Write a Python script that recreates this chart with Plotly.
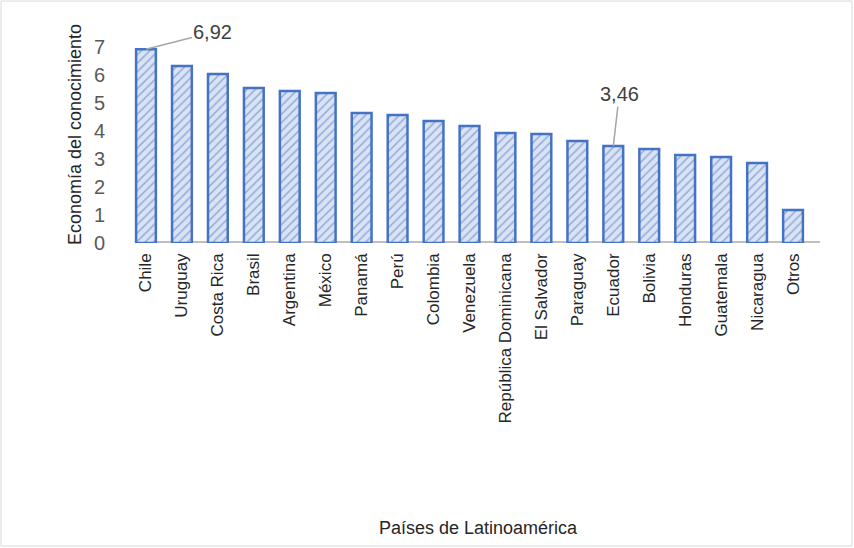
import plotly.graph_objects as go

paises = ["Chile", "Uruguay", "Costa Rica", "Brasil", "Argentina", "México", "Panamá",
          "Perú", "Colombia", "Venezuela", "República Dominicana", "El Salvador",
          "Paraguay", "Ecuador", "Bolivia", "Honduras", "Guatemala", "Nicaragua", "Otros"]
valores = [6.92, 6.32, 6.04, 5.54, 5.43, 5.36, 4.64, 4.57, 4.36, 4.18, 3.93, 3.89,
           3.64, 3.46, 3.36, 3.14, 3.07, 2.86, 1.18]
y_ticks = [0, 1, 2, 3, 4, 5, 6, 7]

L, R, T, B = 128, 43, 47, 305
W, H = 854, 548
pw = W - L - R
ph = H - T - B

def px_x(p):
    return (p - L) / pw

def px_y(p):
    return (H - B - p) / ph

font = "Liberation Sans, Arial, sans-serif"

fig = go.Figure()
fig.add_trace(go.Bar(
    x=paises, y=valores, width=0.55,
    marker=dict(
        color="#DAE3F3",
        line=dict(color="#4472C4", width=2.5),
        pattern=dict(shape="/", fgcolor="#4472C4", bgcolor="#DAE3F3", size=6, solidity=0.25),
    ),
    hoverinfo="x+y",
))

fig.update_layout(
    width=W, height=H,
    margin=dict(l=L, r=R, t=T, b=B),
    paper_bgcolor="white", plot_bgcolor="white",
    showlegend=False,
    bargap=0.45,
    font=dict(family=font, color="#404040"),
    xaxis=dict(
        tickangle=-90, tickfont=dict(size=17, color="#262626", family=font),
        showline=False, showgrid=False, ticks="", ticklabelstandoff=6,
    ),
    yaxis=dict(
        range=[0, 7], tickvals=y_ticks, tickfont=dict(size=20, color="#595959", family=font),
        showgrid=False, showline=False, zeroline=False, ticks="", ticklabelstandoff=22,
    ),
    shapes=[
        dict(type="line", xref="paper", yref="y", x0=px_x(136), x1=px_x(820), y0=0, y1=0,
             line=dict(color="#BFBFBF", width=4), layer="below"),
        dict(type="rect", xref="paper", yref="paper", x0=px_x(1), x1=px_x(852),
             y0=px_y(546), y1=px_y(1), line=dict(color="#D9D9D9", width=1)),
    ],
    annotations=[
        dict(x="Chile", y=valores[0], text="6,92", showarrow=True, arrowhead=0,
             arrowcolor="#A6A6A6", arrowwidth=1.5, ax=67, ay=-17,
             font=dict(size=20, color="#404040", family=font)),
        dict(x="Ecuador", y=valores[13], text="3,46", showarrow=True, arrowhead=0,
             arrowcolor="#A6A6A6", arrowwidth=1.5, ax=6, ay=-52,
             font=dict(size=20, color="#404040", family=font)),
        dict(x=px_x(478), y=px_y(528), xref="paper", yref="paper", text="Países de Latinoamérica",
             xanchor="center", yanchor="middle",
             showarrow=False, font=dict(size=18, color="#262626", family=font)),
        dict(x=px_x(75), y=px_y(135), xref="paper", yref="paper", text="Economía del conocimiento",
             xanchor="center", yanchor="middle",
             textangle=-90, showarrow=False, font=dict(size=18, color="#262626", family=font)),
    ],
)

fig.write_html("out.html")
